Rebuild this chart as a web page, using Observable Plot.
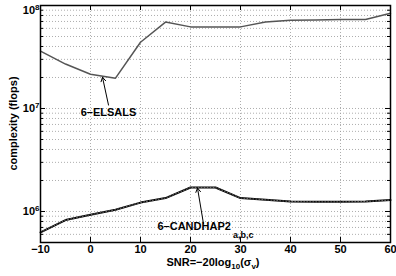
<!DOCTYPE html>
<html><head><meta charset="utf-8">
<script src="https://cdn.jsdelivr.net/npm/d3@7"></script>
<script src="https://cdn.jsdelivr.net/npm/@observablehq/plot@0.6"></script>
<style>body{margin:0;background:#fff}</style>
</head><body><div id="chart"></div>
<script>
const snr = [-10,-5,0,5,10,15,20,25,30,35,40,45,50,55,60];
const elsals = [3.6e7,2.7e7,2.15e7,1.97e7,4.4e7,6.9e7,6.2e7,6.2e7,6.2e7,6.9e7,7.2e7,7.25e7,7.3e7,7.3e7,8.4e7];
const candhap = [6.27e5,8.26e5,9.3e5,1.04e6,1.22e6,1.35e6,1.71e6,1.71e6,1.35e6,1.3e6,1.25e6,1.24e6,1.24e6,1.25e6,1.29e6];
const xTicks = [-10,0,10,20,30,40,50,60];
const yMajor = [1e6,1e7,1e8];
const yMinor = [6e5,7e5,8e5,9e5,2e6,3e6,4e6,5e6,6e6,7e6,8e6,9e6,2e7,3e7,4e7,5e7,6e7,7e7,8e7,9e7];

const W = 396, H = 276, mL = 40, mR = 6, mT = 5, mB = 34;
const iw = W - mL - mR, ih = H - mT - mB;
const font = "Liberation Sans, Arial, sans-serif";

const dataE = snr.map((x,i)=>({x, y: elsals[i]}));
const dataC = snr.map((x,i)=>({x, y: candhap[i]}));
const yAll = yMajor.concat(yMinor);

const plot = Plot.plot({
  width: W, height: H,
  marginLeft: mL, marginRight: mR, marginTop: mT, marginBottom: mB,
  style: {fontFamily: font, fontWeight: "bold", fontSize: "11px", background: "#fff", color: "#000"},
  x: {domain: [-10, 60]},
  y: {type: "log", domain: [5e5, 1e8]},
  marks: [
    Plot.gridX(xTicks, {stroke: "#999", strokeOpacity: 1, strokeDasharray: "1,2", strokeWidth: 0.8}),
    Plot.gridY(yAll, {stroke: "#999", strokeOpacity: 1, strokeDasharray: "1,2", strokeWidth: 0.8}),
    Plot.line(dataE, {x: "x", y: "y", stroke: "#555", strokeWidth: 1.5}),
    Plot.line(dataC, {x: "x", y: "y", stroke: "#000", strokeWidth: 2}),
    Plot.line(dataC, {x: "x", y: "y", stroke: "#999", strokeWidth: 0.7, strokeDasharray: "1,2"}),
    Plot.tickY(yMajor, {y: d=>d, insetRight: iw - 5, stroke: "#000"}),
    Plot.tickY(yMinor, {y: d=>d, insetRight: iw - 3, stroke: "#000"}),
    Plot.tickY(yMajor, {y: d=>d, insetLeft: iw - 5, stroke: "#000"}),
    Plot.tickY(yMinor, {y: d=>d, insetLeft: iw - 3, stroke: "#000"}),
    Plot.tickX(xTicks, {x: d=>d, insetTop: ih - 5, stroke: "#000"}),
    Plot.tickX(xTicks, {x: d=>d, insetBottom: ih - 5, stroke: "#000"}),
    Plot.frame({stroke: "#000", strokeWidth: 1.5}),
    Plot.axisX(xTicks, {tickSize: 0, tickPadding: 3, label: null, fontSize: 11, fontWeight: "bold"}),
    Plot.axisY(yMajor, {tickSize: 0, tickPadding: 1, label: null, tickFormat: d => "10^" + Math.round(Math.log10(d)), fontSize: 11, fontWeight: "bold"}),
    Plot.arrow([{x1: 3.6, y1: 1.08e7, x2: 2.4, y2: 2.01e7}], {x1: "x1", y1: "y1", x2: "x2", y2: "y2", stroke: "#000", strokeWidth: 1, headLength: 7}),
    Plot.text(["6–ELSALS"], {x: 3.6, y: 9.25e6, text: d=>d, fontSize: 11, fontWeight: "bold", fill: "#000"}),
    Plot.arrow([{x1: 22.6, y1: 7.6e5, x2: 21.4, y2: 1.69e6}], {x1: "x1", y1: "y1", x2: "x2", y2: "y2", stroke: "#000", strokeWidth: 1, headLength: 7}),
    Plot.text(["6–CANDHAP2"], {x: 13.4, y: 7.1e5, text: d=>d, textAnchor: "start", fontSize: 11, fontWeight: "bold", fill: "#000"}),
    Plot.text(["a,b,c"], {x: 28.5, y: 5.95e5, text: d=>d, textAnchor: "start", fontSize: 9, fontWeight: "bold", fill: "#000"})
  ]
});

const svg = d3.select(plot.tagName === "svg" ? plot : plot.querySelector("svg"));
svg.selectAll("g[aria-label='y-axis tick label'] text").each(function() {
  const t = d3.select(this);
  const s = t.text();
  if (s.includes("^")) {
    const [b, e] = s.split("^");
    t.text(b);
    t.append("tspan").attr("dy", "-0.45em").attr("font-size", 8).text(e);
  }
});
svg.selectAll("g[aria-label='y-axis tick label'] text").filter(function(){ return d3.select(this).text() === "108"; })
  .attr("dy", "0.45em");
const xl = svg.append("text").attr("x", mL + iw/2 - 2).attr("y", 266)
  .attr("text-anchor", "middle").attr("font-family", font).attr("font-weight", "bold").attr("font-size", 11).attr("fill", "#000");
xl.append("tspan").text("SNR=−20log");
xl.append("tspan").attr("font-size", 8).attr("dy", 3).text("10");
xl.append("tspan").attr("dy", -3).text("(σ");
xl.append("tspan").attr("font-size", 8).attr("dy", 3).text("v");
xl.append("tspan").attr("dy", -3).text(")");
svg.append("text").attr("transform", `translate(17,${mT + ih/2}) rotate(-90)`)
  .attr("text-anchor", "middle").attr("font-family", font).attr("font-weight", "bold").attr("font-size", 11).attr("fill", "#000")
  .text("complexity (flops)");

document.getElementById("chart").append(plot);
</script>
</body></html>
